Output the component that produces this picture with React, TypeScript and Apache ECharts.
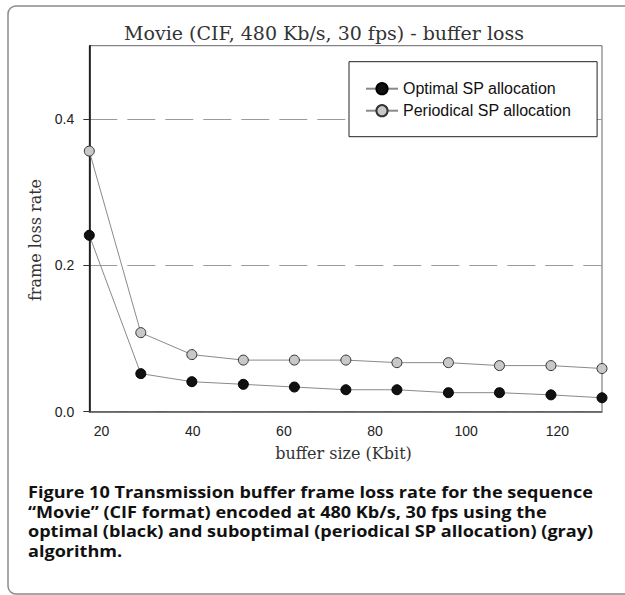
import React, { useEffect, useRef } from "react";
import * as echarts from "echarts";

const bufferSizes = [17.3, 28.6, 39.8, 51.1, 62.3, 73.6, 84.8, 96.1, 107.3, 118.6, 129.8];
const optimalLoss = [0.241, 0.052, 0.041, 0.0374, 0.0337, 0.03, 0.03, 0.026, 0.026, 0.023, 0.019];
const periodicalLoss = [0.356, 0.108, 0.078, 0.0705, 0.0705, 0.0705, 0.067, 0.067, 0.063, 0.063, 0.059];
const xTickLabels = [20, 40, 60, 80, 100, 120];
const yTickLabels = [0, 0.2, 0.4];
const seriesNames = ["Optimal SP allocation", "Periodical SP allocation"];
const titleText = "Movie (CIF, 480 Kb/s, 30 fps) - buffer loss";
const xName = "buffer size (Kbit)";
const yName = "frame loss rate";
const captionLines = [
  "Figure 10 Transmission buffer frame loss rate for the sequence",
  "\u201cMovie\u201d (CIF format) encoded at 480 Kb/s, 30 fps using the",
  "optimal (black) and suboptimal (periodical SP allocation) (gray)",
  "algorithm.",
];

export default function App() {
  const ref = useRef<HTMLDivElement>(null);
  useEffect(() => {
    if (!ref.current) return;
    const chart = echarts.init(ref.current, null, { renderer: "svg" });
    const sans = "Liberation Sans";
    const serif = "DejaVu Serif";
    const capFont = "Open Sans";
    const captionY = [491.7, 511.5, 531.3, 551];
    const graphic: any[] = [
      {
        type: "rect",
        shape: { x: 8, y: 6, width: 640, height: 588, r: 8 },
        style: { fill: "none", stroke: "#8a8a8a", lineWidth: 1.5 },
        silent: true,
        z: -10,
      },
      {
        type: "text",
        x: 324,
        y: 33,
        style: {
          text: titleText,
          font: `19px "${serif}"`,
          fill: "#333",
          textAlign: "center",
          textVerticalAlign: "middle",
        },
      },
      {
        type: "text",
        x: 343.5,
        y: 453,
        style: {
          text: xName,
          font: `16px "${serif}"`,
          fill: "#333",
          textAlign: "center",
          textVerticalAlign: "middle",
        },
      },
      {
        type: "text",
        x: 35,
        y: 240,
        rotation: Math.PI / 2,
        style: {
          text: yName,
          font: `16px "${serif}"`,
          fill: "#333",
          textAlign: "center",
          textVerticalAlign: "middle",
        },
      },
    ];
    captionLines.forEach((line, i) => {
      graphic.push({
        type: "text",
        x: 28,
        y: captionY[i],
        scaleX: 1.13,
        style: {
          text: line,
          font: `bold 16px "${capFont}"`,
          fill: "#111",
          textAlign: "left",
          textVerticalAlign: "middle",
        },
      });
    });

    chart.setOption({
      animation: false,
      grid: {
        left: 89.3,
        right: 23,
        top: 45.7,
        bottom: 183.3,
        show: true,
        borderColor: "#666",
        borderWidth: 1,
        backgroundColor: "transparent",
      },
      legend: {
        orient: "vertical",
        left: 349,
        top: 61.7,
        padding: [19, 26, 18, 16],
        itemWidth: 32,
        itemHeight: 14,
        itemGap: 6,
        borderColor: "#222",
        borderWidth: 1,
        backgroundColor: "#fff",
        textStyle: { fontFamily: sans, fontSize: 16, color: "#111" },
        data: seriesNames,
      },
      xAxis: {
        type: "value",
        min: 17.3,
        max: 129.8,
        axisLine: { show: true, lineStyle: { color: "#555", width: 1.5 } },
        axisTick: { show: false },
        splitLine: { show: false },
        axisLabel: {
          customValues: xTickLabels,
          margin: 12,
          fontFamily: sans,
          fontSize: 14,
          color: "#222",
        },
      },
      yAxis: {
        type: "value",
        min: 0,
        max: 0.5,
        interval: 0.1,
        axisLine: { show: true, lineStyle: { color: "#000", width: 1.5 } },
        axisTick: {
          show: true,
          length: 6,
          customValues: yTickLabels,
          lineStyle: { color: "#333" },
        },
        splitLine: {
          show: true,
          lineStyle: { color: "#9a9a9a", width: 1, type: [28, 10] },
        },
        axisLabel: {
          customValues: yTickLabels,
          margin: 15,
          fontFamily: sans,
          fontSize: 14,
          color: "#222",
          formatter: (v: number) => v.toFixed(1),
        },
      },
      series: [
        {
          name: seriesNames[0],
          type: "line",
          data: bufferSizes.map((x, i) => [x, optimalLoss[i]]),
          symbol: "circle",
          symbolSize: 10,
          lineStyle: { color: "#8a8a8a", width: 1 },
          itemStyle: { color: "#111", borderColor: "#000", borderWidth: 1 },
          z: 3,
        },
        {
          name: seriesNames[1],
          type: "line",
          data: bufferSizes.map((x, i) => [x, periodicalLoss[i]]),
          symbol: "circle",
          symbolSize: 10,
          lineStyle: { color: "#8a8a8a", width: 1 },
          itemStyle: { color: "#c8c8c8", borderColor: "#333", borderWidth: 1 },
          z: 3,
        },
      ],
      graphic,
    });
    return () => chart.dispose();
  }, []);
  return (
    <div
      ref={ref}
      style={{ position: "fixed", left: 0, top: 0, width: 625, height: 595, background: "#fff" }}
    />
  );
}
